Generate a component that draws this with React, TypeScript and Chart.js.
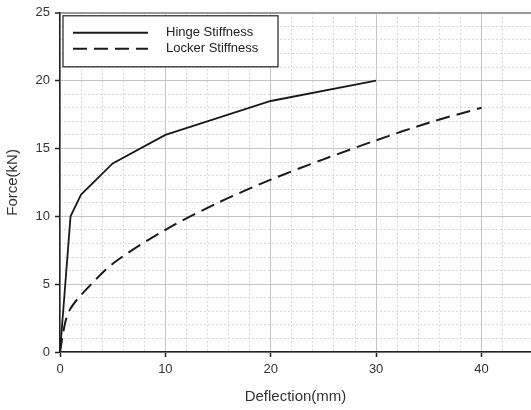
import React, { useEffect, useRef } from "react";
import { Chart, registerables } from "chart.js";

Chart.register(...registerables);

const hingeX = [0, 1, 2, 5, 10, 20, 30];
const hingeY = [0, 10, 11.6, 13.9, 16, 18.5, 20];

const lockerX = [0, 0.5, 1, 2, 5, 10, 15, 20, 25, 30, 35, 40];
const lockerY = [0, 2.2, 3.2, 4.2, 6.5, 9, 11, 12.7, 14.2, 15.6, 16.9, 18];

const seriesNames = ["Hinge Stiffness", "Locker Stiffness"];
const xTitle = "Deflection(mm)";
const yTitle = "Force(kN)";

const FONT = "'Liberation Sans', Arial, sans-serif";

const legendPlugin = {
  id: "boxLegend",
  afterDatasetsDraw(chart: any) {
    const { ctx, chartArea } = chart;
    const x0 = chartArea.left + 3;
    const y0 = chartArea.top + 3;
    const w = 215;
    const h = 51;
    ctx.save();
    ctx.fillStyle = "#ffffff";
    ctx.fillRect(x0, y0, w, h);
    ctx.strokeStyle = "#222";
    ctx.lineWidth = 1.2;
    ctx.strokeRect(x0, y0, w, h);
    const rows = [y0 + 17, y0 + 33];
    chart.data.datasets.forEach((ds: any, i: number) => {
      ctx.beginPath();
      ctx.setLineDash(ds.borderDash || []);
      ctx.strokeStyle = ds.borderColor;
      ctx.lineWidth = 2;
      ctx.moveTo(x0 + 10, rows[i]);
      ctx.lineTo(x0 + 85, rows[i]);
      ctx.stroke();
      ctx.setLineDash([]);
      ctx.fillStyle = "#222";
      ctx.font = `13px ${FONT}`;
      ctx.textBaseline = "middle";
      ctx.textAlign = "left";
      ctx.fillText(ds.label, x0 + 103, rows[i]);
    });
    ctx.restore();
  },
};

export default function App() {
  const ref = useRef<HTMLCanvasElement>(null);
  useEffect(() => {
    if (!ref.current) return;
    const chart = new Chart(ref.current, {
      type: "line",
      data: {
        datasets: [
          {
            label: seriesNames[0],
            data: hingeX.map((x, i) => ({ x, y: hingeY[i] })),
            borderColor: "#1a1a1a",
            borderWidth: 1.8,
            pointRadius: 0,
            tension: 0,
            fill: false,
          },
          {
            label: seriesNames[1],
            data: lockerX.map((x, i) => ({ x, y: lockerY[i] })),
            borderColor: "#1a1a1a",
            borderWidth: 2,
            borderDash: [14, 7],
            pointRadius: 0,
            tension: 0.3,
            fill: false,
          },
        ],
      },
      plugins: [legendPlugin],
      options: {
        animation: false,
        responsive: true,
        maintainAspectRatio: false,
        layout: { padding: { top: 12, right: 0, left: 0, bottom: 0 } },
        plugins: {
          legend: { display: false },
          tooltip: { enabled: false },
        },
        scales: {
          xMinor: {
            type: "linear",
            position: "bottom",
            min: 0,
            max: 44.7,
            ticks: { display: false, stepSize: 2 },
            grid: {
              color: "#d6d6d6",
              lineWidth: 1,
              drawTicks: false,
              z: -2,
            } as any,
            border: { display: false, dash: [2, 2] },
            afterFit: (s: any) => {
              s.height = 0;
            },
          } as any,
          yMinor: {
            type: "linear",
            position: "left",
            min: 0,
            max: 25,
            ticks: { display: false, stepSize: 1 },
            grid: {
              color: "#d6d6d6",
              lineWidth: 1,
              drawTicks: false,
              z: -2,
            } as any,
            border: { display: false, dash: [2, 2] },
            afterFit: (s: any) => {
              s.width = 0;
            },
          } as any,
          x: {
            type: "linear",
            position: "bottom",
            min: 0,
            max: 44.7,
            afterBuildTicks: (s: any) => {
              s.ticks = s.ticks.filter((t: any) => t.value % 10 === 0);
            },
            ticks: {
              stepSize: 10,
              color: "#333",
              font: { family: FONT, size: 13 },
              padding: 5,
            },
            grid: {
              color: "#c4c4c4",
              lineWidth: 1,
              tickLength: 5,
              tickColor: "#222",
              tickWidth: 1.5,
            } as any,
            border: { color: "#222", width: 1.5 },
            title: {
              display: true,
              text: xTitle,
              color: "#333",
              font: { family: FONT, size: 15 },
              padding: { top: 0, bottom: 4 },
            },
            afterFit: (s: any) => {
              s.height = 58;
            },
          } as any,
          y: {
            type: "linear",
            position: "left",
            min: 0,
            max: 25,
            ticks: {
              stepSize: 5,
              color: "#333",
              font: { family: FONT, size: 13 },
              padding: 5,
            },
            grid: {
              color: (c: any) => (c.tick && c.tick.value === 25 ? "#9a9a9a" : "#c4c4c4"),
              lineWidth: (c: any) => (c.tick && c.tick.value === 25 ? 2 : 1),
              tickLength: 5,
              tickColor: "#222",
              tickWidth: 1.5,
            } as any,
            border: { color: "#222", width: 1.5 },
            title: {
              display: true,
              text: yTitle,
              color: "#333",
              font: { family: FONT, size: 15 },
              padding: { top: 4, bottom: 0 },
            },
            afterFit: (s: any) => {
              s.width = 60;
            },
          } as any,
        },
      },
    });
    return () => chart.destroy();
  }, []);
  return (
    <div style={{ position: "fixed", left: 0, top: 0, width: 531, height: 410, background: "#fff" }}>
      <canvas ref={ref} />
    </div>
  );
}
